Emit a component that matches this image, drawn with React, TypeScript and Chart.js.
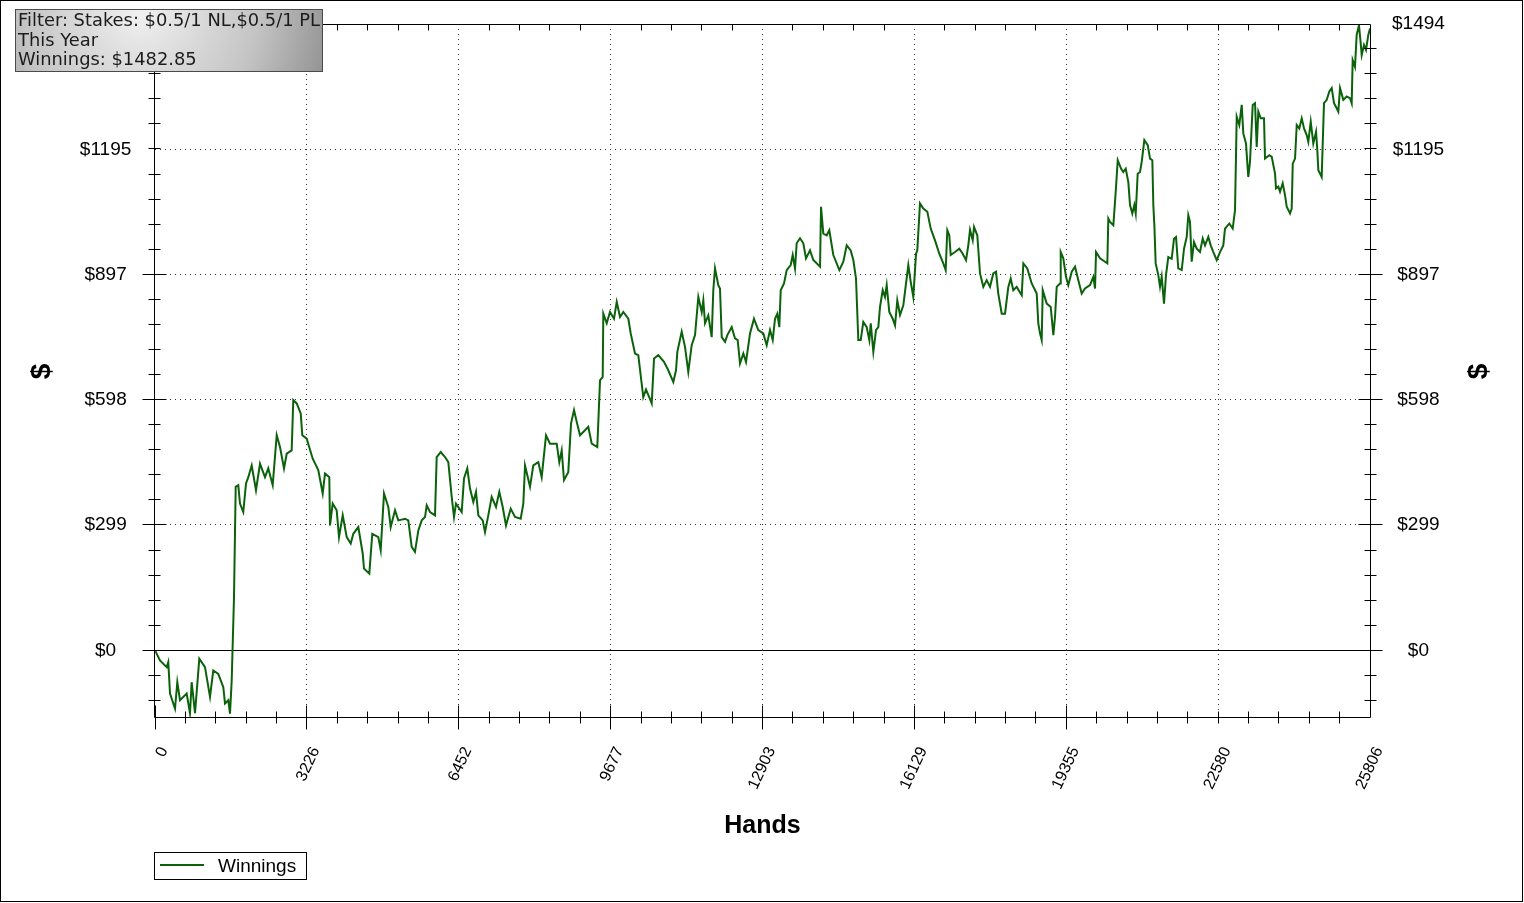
import React, { useEffect, useRef } from "react";
import { Chart, registerables } from "chart.js";

Chart.register(...registerables);

// ---- data ----
const hands: number[] = [
  0, 106, 249, 282, 319, 425, 474, 531, 673, 743, 779, 850, 941, 1062, 1168, 1238, 1344, 1451, 1487, 1557,
  1593, 1629, 1678, 1714, 1769, 1805, 1875, 1933, 1982, 2054, 2145, 2230, 2336, 2406, 2500, 2585, 2655, 2740, 2797, 2903,
  2937, 3010, 3095, 3129, 3222, 3350, 3468, 3562, 3611, 3702, 3717, 3774, 3859, 3908, 3987, 4072, 4157, 4212, 4318, 4412,
  4439, 4552, 4615, 4743, 4794, 4864, 4955, 5006, 5098, 5168, 5310, 5380, 5452, 5522, 5593, 5665, 5735, 5771, 5841, 5947,
  5983, 6068, 6160, 6230, 6302, 6351, 6393, 6514, 6563, 6633, 6691, 6761, 6818, 6867, 6960, 7009, 7079, 7151, 7243, 7313,
  7385, 7455, 7555, 7646, 7767, 7823, 7859, 7965, 8035, 8141, 8213, 8305, 8390, 8532, 8587, 8638, 8687, 8778, 8836, 8900,
  8957, 9027, 9133, 9203, 9276, 9394, 9452, 9509, 9522, 9594, 9664, 9749, 9807, 9877, 9947, 10053, 10104, 10195, 10265, 10333,
  10371, 10429, 10514, 10550, 10599, 10690, 10811, 10902, 11009, 11066, 11094, 11187, 11257, 11327, 11399, 11470, 11540, 11612, 11646, 11682,
  11752, 11824, 11858, 11894, 11964, 12000, 12037, 12107, 12156, 12249, 12319, 12376, 12425, 12496, 12553, 12638, 12722, 12814, 12920, 12992,
  13063, 13120, 13169, 13218, 13260, 13290, 13360, 13417, 13502, 13545, 13594, 13629, 13700, 13770, 13827, 13912, 13982, 14125, 14146, 14195,
  14267, 14322, 14407, 14535, 14620, 14692, 14776, 14832, 14889, 14938, 14989, 15044, 15116, 15172, 15202, 15257, 15314, 15363, 15399, 15456,
  15505, 15541, 15596, 15669, 15718, 15766, 15824, 15894, 15951, 16000, 16051, 16106, 16164, 16191, 16248, 16318, 16404, 16476, 16567, 16658,
  16743, 16794, 16828, 16870, 16900, 16992, 17083, 17155, 17226, 17274, 17311, 17368, 17396, 17465, 17523, 17593, 17665, 17735, 17805, 17863,
  17911, 17984, 18054, 18124, 18175, 18230, 18302, 18409, 18443, 18527, 18621, 18727, 18761, 18797, 18833, 18855, 18940, 19025, 19080, 19116,
  19152, 19222, 19237, 19292, 19349, 19398, 19471, 19541, 19611, 19683, 19753, 19859, 19930, 19966, 19987, 20072, 20178, 20227, 20248, 20284,
  20355, 20405, 20448, 20518, 20567, 20618, 20673, 20709, 20758, 20800, 20830, 20872, 20921, 20957, 21013, 21085, 21134, 21183, 21204, 21226,
  21254, 21310, 21346, 21382, 21431, 21473, 21522, 21594, 21643, 21686, 21734, 21807, 21856, 21913, 21947, 21983, 22019, 22068, 22125, 22195,
  22253, 22302, 22372, 22423, 22479, 22550, 22620, 22690, 22726, 22818, 22890, 22939, 22975, 23030, 23081, 23115, 23172, 23221, 23257, 23315,
  23364, 23400, 23434, 23485, 23555, 23576, 23668, 23719, 23789, 23810, 23859, 23895, 23952, 24001, 24037, 24107, 24143, 24165, 24214, 24250,
  24305, 24356, 24405, 24462, 24496, 24547, 24602, 24660, 24687, 24709, 24780, 24802, 24829, 24887, 24942, 24993, 25042, 25099, 25133, 25169,
  25239, 25311, 25381, 25417, 25438, 25487, 25523, 25572, 25609, 25630, 25679, 25721, 25770, 25806,
];

const winnings: number[] = [
  0, -24, -40, -28, -103, -139, -76, -119, -103, -150, -76, -150, -20, -40, -111, -48, -56, -88, -127, -119,
  -151, -72, 127, 390, 394, 350, 330, 398, 413, 441, 382, 445, 413, 434, 394, 513, 485, 434, 469, 477,
  597, 589, 565, 513, 505, 457, 430, 374, 422, 413, 298, 350, 334, 270, 322, 270, 255, 278, 294, 231,
  195, 183, 278, 270, 239, 374, 342, 294, 334, 310, 314, 310, 247, 235, 286, 310, 318, 346, 330, 322,
  461, 473, 461, 449, 366, 318, 350, 330, 410, 434, 386, 354, 378, 322, 310, 282, 322, 366, 342, 378,
  342, 298, 338, 318, 314, 350, 441, 390, 441, 449, 413, 513, 493, 493, 449, 477, 406, 425, 541, 573,
  545, 513, 525, 533, 493, 485, 644, 652, 803, 780, 807, 791, 831, 795, 807, 791, 756, 708, 704, 640,
  604, 622, 599, 589, 696, 704, 688, 668, 640, 668, 712, 760, 724, 664, 728, 752, 843, 807, 835, 780,
  799, 747, 859, 911, 871, 863, 747, 736, 752, 771, 744, 740, 684, 708, 688, 756, 791, 764, 756, 728,
  764, 740, 791, 803, 771, 859, 875, 907, 919, 943, 911, 971, 983, 971, 935, 954, 931, 915, 1058, 994,
  990, 1002, 943, 907, 927, 966, 954, 931, 887, 740, 740, 783, 771, 740, 780, 712, 764, 771, 819, 859,
  843, 871, 807, 791, 775, 835, 800, 823, 875, 919, 879, 843, 946, 954, 1066, 1054, 1046, 1006, 978, 946,
  923, 907, 1002, 990, 943, 950, 958, 946, 931, 966, 1003, 978, 1010, 990, 899, 867, 883, 867, 899, 903,
  851, 803, 803, 867, 887, 859, 867, 847, 923, 911, 875, 851, 780, 756, 740, 859, 827, 819, 752, 795,
  867, 875, 950, 935, 891, 871, 903, 915, 883, 851, 863, 871, 891, 863, 950, 935, 927, 923, 1030, 1022,
  1014, 1094, 1169, 1149, 1141, 1149, 1117, 1062, 1042, 1062, 1042, 1137, 1141, 1165, 1217, 1205, 1173, 1169, 1062, 1014,
  923, 895, 867, 891, 827, 895, 938, 934, 982, 986, 911, 907, 958, 986, 1038, 1022, 927, 974, 958, 950,
  982, 966, 986, 966, 950, 931, 950, 966, 1006, 1018, 1006, 1050, 1273, 1253, 1301, 1233, 1209, 1129, 1165, 1301,
  1305, 1201, 1285, 1269, 1269, 1173, 1181, 1177, 1137, 1102, 1106, 1094, 1114, 1086, 1058, 1042, 1054, 1161, 1173, 1253,
  1245, 1269, 1245, 1229, 1213, 1261, 1209, 1237, 1193, 1145, 1129, 1209, 1305, 1313, 1333, 1341, 1305, 1293, 1285, 1341,
  1313, 1321, 1317, 1305, 1408, 1392, 1468, 1491, 1448, 1420, 1444, 1432, 1468, 1483,
];

const xTickValues: number[] = [0, 3226, 6452, 9677, 12903, 16129, 19355, 22580, 25806];
const yTickValues: number[] = [0, 299, 598, 897, 1195, 1494];
const yTickLabels: string[] = ["$0", "$299", "$598", "$897", "$1195", "$1494"];
const xMin = 0;
const xMax = 25806;
const yMin = -159;
const yMax = 1494;
const seriesLabel = "Winnings";
const xTitle = "Hands";
const yTitle = "$";
const infoLines: string[] = ["Filter: Stakes: $0.5/1 NL,$0.5/1 PL", "This Year", "Winnings: $1482.85"];

const W = 1524;
const H = 903;
const GREEN = "#0b620b";
const SANS = "'Liberation Sans', Arial, sans-serif";

function minorValues(majors: number[], lo: number, hi: number, parts: number): number[] {
  const out: number[] = [];
  const step = (majors[1] - majors[0]) / parts;
  const start = majors[0];
  for (let k = -50; k <= 50 * parts; k++) {
    const v = start + k * step;
    if (v < lo - 1e-6 || v > hi + 1e-6) continue;
    out.push(v);
  }
  return out;
}

const decorPlugin = {
  id: "decor",
  beforeDatasetsDraw(chart: any) {
    const { ctx, chartArea, scales } = chart;
    const { left, right, top, bottom } = chartArea;
    const x = scales.x;
    const y = scales.y;
    ctx.save();
    ctx.lineWidth = 1;
    ctx.strokeStyle = "#333";
    ctx.setLineDash([1, 4]);
    xTickValues.forEach((v) => {
      if (v === xMin || v === xMax) return;
      const px = Math.floor(x.getPixelForValue(v)) + 0.5;
      ctx.beginPath();
      ctx.moveTo(px, top);
      ctx.lineTo(px, bottom);
      ctx.stroke();
    });
    yTickValues.forEach((v) => {
      if (v === 0 || v === yMax) return;
      const py = Math.floor(y.getPixelForValue(v)) + 0.5;
      ctx.beginPath();
      ctx.moveTo(left, py);
      ctx.lineTo(right, py);
      ctx.stroke();
    });
    ctx.setLineDash([]);
    ctx.strokeStyle = "#000";
    const p0 = Math.floor(y.getPixelForValue(0)) + 0.5;
    ctx.beginPath();
    ctx.moveTo(left, p0);
    ctx.lineTo(right, p0);
    ctx.stroke();
    ctx.restore();
  },
  afterDatasetsDraw(chart: any) {
    const { ctx, chartArea, scales } = chart;
    const { left, right, top, bottom } = chartArea;
    const x = scales.x;
    const y = scales.y;
    ctx.save();
    ctx.setLineDash([]);
    ctx.strokeStyle = "#000";
    ctx.lineWidth = 1;
    const L = Math.floor(left) - 0.5;
    const R = Math.floor(right) + 0.5;
    const T = Math.floor(top) + 0.5;
    const B = Math.floor(bottom) + 0.5;
    const seg = (x1: number, y1: number, x2: number, y2: number) => {
      ctx.beginPath();
      ctx.moveTo(x1, y1);
      ctx.lineTo(x2, y2);
      ctx.stroke();
    };
    // frame
    seg(L, T, R, T);
    seg(L, B, R, B);
    seg(L, T, L, B);
    seg(R, T, R, B);

    // y ticks
    const yMinor = minorValues(yTickValues, yMin, yMax, 5);
    yMinor.forEach((v) => {
      const isMajor = yTickValues.some((m) => Math.abs(m - v) < 1);
      const len = isMajor ? 12 : 6;
      const py = Math.floor(y.getPixelForValue(v)) + 0.5;
      seg(L - len, py, L + len, py);
      seg(R - len, py, R + len, py);
    });
    // x ticks
    const xMinor = minorValues(xTickValues, xMin, xMax, 5);
    xMinor.forEach((v) => {
      const isMajor = xTickValues.some((m) => Math.abs(m - v) < 2);
      const len = isMajor ? 12 : 6;
      const px = Math.floor(x.getPixelForValue(v)) + 0.5;
      seg(px, B - len, px, B + len);
      if (!isMajor) seg(px, T, px, T + 6);
    });

    // axis titles
    ctx.fillStyle = "#000";
    ctx.font = `bold 25px ${SANS}`;
    ctx.textAlign = "center";
    ctx.textBaseline = "alphabetic";
    ctx.fillText(xTitle, (left + right) / 2, 833);
    ctx.font = `bold 28px ${SANS}`;
    ctx.textBaseline = "middle";
    const cy = (top + bottom) / 2 + 1;
    [42, 1479].forEach((cx) => {
      ctx.save();
      ctx.translate(cx, cy);
      ctx.rotate(-Math.PI / 2);
      ctx.fillText(yTitle, 0, 0);
      ctx.restore();
    });

    // info box
    const bx = 15.5, by = 9.5, bw = 307, bh = 62;
    const grad = ctx.createRadialGradient(140, 12, 5, 140, 12, 230);
    grad.addColorStop(0, "#efefef");
    grad.addColorStop(0.5, "#c4c4c4");
    grad.addColorStop(1, "#7c7c7c");
    ctx.fillStyle = grad;
    ctx.fillRect(bx, by, bw, bh);
    ctx.strokeStyle = "#4a4a4a";
    ctx.strokeRect(bx, by, bw, bh);
    ctx.fillStyle = "#1c1c1c";
    ctx.textAlign = "left";
    ctx.textBaseline = "alphabetic";
    ctx.font = `14px 'DejaVu Sans', Verdana, sans-serif`;
    const w0 = ctx.measureText(infoLines[0]).width;
    const fs = (14 * 302) / w0;
    ctx.font = `${fs.toFixed(2)}px 'DejaVu Sans', Verdana, sans-serif`;
    infoLines.forEach((t, i) => ctx.fillText(t, 18, 26 + i * 19.5));

    // legend
    ctx.strokeStyle = "#000";
    ctx.lineWidth = 1;
    ctx.strokeRect(154.5, 852.5, 152, 27);
    ctx.strokeStyle = GREEN;
    ctx.lineWidth = 2;
    seg(160, 865, 204, 865);
    ctx.fillStyle = "#000";
    ctx.font = `19px ${SANS}`;
    ctx.fillText(seriesLabel, 218, 872);

    // outer border
    ctx.strokeStyle = "#000";
    ctx.lineWidth = 1;
    ctx.strokeRect(0.5, 0.5, W - 2, H - 2);
    ctx.restore();
  },
};

export default function App() {
  const ref = useRef<HTMLCanvasElement | null>(null);
  useEffect(() => {
    if (!ref.current) return;
    const zeroPad = (s: any) => {
      s.paddingTop = 0;
      s.paddingBottom = 0;
      s.paddingLeft = 0;
      s.paddingRight = 0;
    };
    const chart = new Chart(ref.current, {
      type: "line",
      data: {
        datasets: [
          {
            label: seriesLabel,
            data: hands.map((h, i) => ({ x: h, y: winnings[i] })),
            borderColor: GREEN,
            borderWidth: 2,
            pointRadius: 0,
            tension: 0,
            fill: false,
            yAxisID: "y",
          },
        ],
      },
      options: {
        responsive: false,
        maintainAspectRatio: false,
        animation: false,
        events: [],
        layout: { padding: { top: 24, left: 0, right: 0, bottom: 0 } },
        plugins: { legend: { display: false }, title: { display: false }, tooltip: { enabled: false } },
        scales: {
          x: {
            type: "linear",
            position: "bottom",
            min: xMin,
            max: xMax,
            afterBuildTicks: (s: any) => {
              s.ticks = xTickValues.map((v) => ({ value: v }));
            },
            afterFit: (s: any) => {
              s.height = H - 717;
              zeroPad(s);
            },
            grid: { display: false, drawTicks: false, tickLength: 0 },
            border: { display: false },
            ticks: {
              autoSkip: false,
              minRotation: 65,
              maxRotation: 65,
              padding: 27,
              labelOffset: 9,
              color: "#000",
              font: { family: SANS, size: 16 },
              callback: (v: any) => String(v),
            },
          },
          y: {
            type: "linear",
            position: "left",
            min: yMin,
            max: yMax,
            afterBuildTicks: (s: any) => {
              s.ticks = yTickValues.map((v) => ({ value: v }));
            },
            afterFit: (s: any) => {
              s.width = 155;
              zeroPad(s);
            },
            grid: { display: false, drawTicks: false, tickLength: 0 },
            border: { display: false },
            ticks: {
              crossAlign: "center",
              padding: 23,
              color: "#000",
              font: { family: SANS, size: 19 },
              callback: (_v: any, i: number) => yTickLabels[i],
            },
          },
          y2: {
            type: "linear",
            position: "right",
            min: yMin,
            max: yMax,
            afterBuildTicks: (s: any) => {
              s.ticks = yTickValues.map((v) => ({ value: v }));
            },
            afterFit: (s: any) => {
              s.width = W - 1370;
              zeroPad(s);
            },
            grid: { display: false, drawTicks: false, tickLength: 0 },
            border: { display: false },
            ticks: {
              crossAlign: "center",
              padding: 22,
              color: "#000",
              font: { family: SANS, size: 19 },
              callback: (_v: any, i: number) => yTickLabels[i],
            },
          },
        },
      } as any,
      plugins: [decorPlugin],
    });
    return () => chart.destroy();
  }, []);
  return (
    <div style={{ position: "absolute", left: 0, top: 0, width: W, height: H, background: "#fff" }}>
      <canvas ref={ref} width={W} height={H} style={{ display: "block" }} />
    </div>
  );
}
